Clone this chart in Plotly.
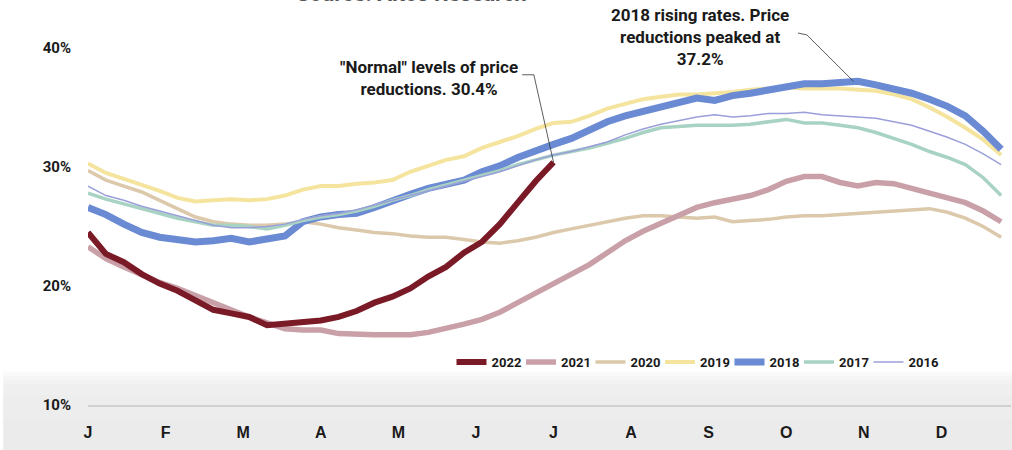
import plotly.graph_objects as go

# Weekly share of listings with a price reduction (%), week 0 = first week of January
weeks = list(range(52))

y2022 = [24.5, 22.7, 22.0, 21.0, 20.2, 19.6, 18.8, 18.0, 17.7, 17.4, 16.7, 16.8, 16.9,
         17.1, 17.4, 17.9, 18.6, 19.1, 19.8, 20.8, 21.6, 22.8, 23.7, 25.2, 27.0, 28.8, 30.4]

y2021 = [23.3, 22.3, 21.6, 20.9, 20.3, 19.8, 19.2, 18.5, 17.9, 17.4, 16.9, 16.4, 16.3,
         16.3, 16.0, 15.9, 15.9, 15.9, 15.9, 16.1, 16.4, 16.8, 17.2, 17.8, 18.6, 19.4,
         20.2, 21.0, 21.8, 22.8, 23.8, 24.6, 25.3, 25.9, 26.6, 27.0, 27.3, 27.6, 28.1,
         28.8, 29.2, 29.2, 28.7, 28.4, 28.7, 28.6, 28.2, 27.8, 27.5, 27.0, 26.3, 25.4]

y2020 = [29.7, 28.9, 28.4, 27.9, 27.2, 26.5, 25.8, 25.4, 25.2, 25.1, 25.1, 25.2, 25.4,
         25.2, 24.9, 24.7, 24.5, 24.4, 24.2, 24.1, 24.1, 23.9, 23.7, 23.6, 23.8, 24.1,
         24.5, 24.8, 25.1, 25.4, 25.7, 25.9, 25.9, 25.8, 25.7, 25.8, 25.4, 25.5, 25.6,
         25.8, 25.9, 25.9, 26.0, 26.1, 26.2, 26.3, 26.4, 26.5, 26.2, 25.7, 25.0, 24.1]

y2019 = [30.3, 29.5, 29.0, 28.5, 28.0, 27.4, 27.1, 27.2, 27.3, 27.2, 27.3, 27.6, 28.1,
         28.4, 28.4, 28.6, 28.7, 28.9, 29.6, 30.1, 30.6, 30.9, 31.6, 32.1, 32.6, 33.2,
         33.7, 33.8, 34.3, 34.9, 35.3, 35.7, 35.9, 36.1, 36.1, 36.2, 36.3, 36.5, 36.6,
         36.7, 36.6, 36.6, 36.6, 36.5, 36.4, 36.1, 35.7, 35.0, 34.2, 33.3, 32.3, 31.0]

y2018 = [26.6, 26.0, 25.2, 24.5, 24.1, 23.9, 23.7, 23.8, 24.0, 23.7, 23.9, 24.2, 25.4,
         25.8, 26.0, 26.1, 26.6, 27.2, 27.7, 28.2, 28.5, 28.9, 29.6, 30.1, 30.8, 31.4,
         31.9, 32.4, 33.1, 33.8, 34.3, 34.7, 35.0, 35.4, 35.8, 35.6, 36.0, 36.2, 36.5,
         36.8, 37.0, 37.0, 37.1, 37.2, 36.9, 36.6, 36.2, 35.7, 35.1, 34.3, 33.0, 31.5]

y2017 = [27.8, 27.3, 26.9, 26.5, 26.1, 25.7, 25.4, 25.1, 25.1, 25.0, 24.8, 25.1, 25.5,
         25.8, 26.0, 26.3, 26.7, 27.2, 27.6, 28.1, 28.5, 28.9, 29.3, 29.7, 30.2, 30.6,
         31.0, 31.3, 31.6, 32.0, 32.4, 32.9, 33.3, 33.4, 33.5, 33.5, 33.5, 33.6, 33.8,
         34.0, 33.7, 33.7, 33.5, 33.3, 32.9, 32.4, 31.9, 31.3, 30.8, 30.2, 29.1, 27.6]

y2016 = [28.4, 27.6, 27.2, 26.7, 26.3, 25.9, 25.5, 25.1, 24.9, 24.9, 25.0, 25.2, 25.6,
         25.9, 26.1, 26.4, 26.8, 27.2, 27.6, 28.0, 28.4, 28.8, 29.2, 29.6, 30.1, 30.6,
         31.0, 31.3, 31.7, 32.1, 32.7, 33.2, 33.6, 33.9, 34.2, 34.4, 34.2, 34.3, 34.5,
         34.5, 34.6, 34.4, 34.3, 34.2, 34.1, 33.8, 33.5, 33.0, 32.5, 31.9, 31.1, 30.2]

month_labels = ["J", "F", "M", "A", "M", "J", "J", "A", "S", "O", "N", "D"]
y_ticks = [10, 20, 30, 40]

# name, values, colour, width, legend slot; listed in drawing order (bottom first)
series = [
    ("2020", y2020, "#dcc8aa", 3.5, 2),
    ("2021", y2021, "#c9a0a8", 5.5, 1),
    ("2019", y2019, "#f5e49e", 4, 3),
    ("2018", y2018, "#6b8ad4", 7, 4),
    ("2017", y2017, "#a8d3c3", 3.5, 5),
    ("2016", y2016, "#9a9fd9", 1.5, 6),
    ("2022", y2022, "#7a1a26", 6, 0),
]

PLOT_LEFT, PLOT_W = 88, 923
LEGEND_X0, LEGEND_STEP = 451.5, 69.5  # pixels

def legend_key(slot):
    return "legend" if slot == 0 else f"legend{slot + 1}"

fig = go.Figure()
for name, vals, color, width, slot in series:
    fig.add_trace(go.Scatter(
        x=weeks[:len(vals)], y=vals, name=name, mode="lines",
        line=dict(color=color, width=width), legend=legend_key(slot),
    ))

month_pos = [i * 52 / 12 for i in range(12)]

label_font = dict(family="Roboto, Liberation Sans, Arial", size=17, color="#1a1a1a", weight="bold")
leader = dict(color="#333333", width=0.8)

# callout for the 2022 endpoint
end_week = len(y2022) - 1
fig.add_annotation(
    x=end_week - 6.95, y=37.5, xref="x", yref="y", xanchor="center", yanchor="middle",
    text="\"Normal\" levels of price<br>reductions. 30.4%", showarrow=False,
    align="center", font=label_font,
)
fig.add_shape(
    type="path", xref="x", yref="y", layer="above",
    path=f"M {end_week - 1.75},37.75 L {end_week - 1.1},37.75 L {end_week},{y2022[-1]}",
    line=leader,
)

# callout for the 2018 peak
peak_week = y2018.index(max(y2018))
fig.add_annotation(
    x=peak_week - 8.8, y=40.9, xref="x", yref="y", xanchor="center", yanchor="middle",
    text="2018 rising rates. Price<br>reductions peaked at<br>37.2%", showarrow=False,
    align="center", font=label_font,
)
fig.add_shape(
    type="path", xref="x", yref="y", layer="above",
    path=f"M {peak_week - 3.35},41.26 L {peak_week - 2.85},41.1 L {peak_week - 0.25},{max(y2018)}",
    line=leader,
)

# source line, partly above the top edge
fig.add_annotation(
    x=0.35, y=1.0, xref="paper", yref="paper", yanchor="bottom", yshift=-8,
    text="Source: Altos Research", showarrow=False,
    font=dict(family="Roboto, Arial", size=22, color="#555555", weight="bold"),
)

# grey footer band, built from stacked translucent layers so its top edge fades in
for top in [0.082, 0.072, 0.062, 0.05, 0.025, -0.035]:
    fig.add_shape(
        type="rect", xref="paper", yref="paper", layer="below",
        x0=-0.092, x1=1.01, y0=-0.12, y1=top,
        fillcolor="#e6e6e6", opacity=0.2, line=dict(width=0),
    )

# one single-entry legend per year, laid out in a row
legend_font = dict(family="Roboto, Arial", size=13, color="#1a1a1a", weight="bold")
legends = {}
for slot in range(len(series)):
    legends[legend_key(slot)] = dict(
        orientation="h", x=(LEGEND_X0 + slot * LEGEND_STEP - PLOT_LEFT) / PLOT_W,
        y=0.106, xanchor="left", yanchor="middle",
        bgcolor="rgba(0,0,0,0)", font=legend_font, itemwidth=30,
    )

fig.update_layout(
    width=1012, height=450,
    margin=dict(l=PLOT_LEFT, r=1, t=0, b=45),
    paper_bgcolor="white", plot_bgcolor="rgba(0,0,0,0)",
    showlegend=True,
    xaxis=dict(
        range=[0, 51.55], tickvals=month_pos, ticktext=month_labels,
        showgrid=False, zeroline=False, showline=True, linecolor="#d0d0d0", linewidth=1.5,
        ticks="", ticklabelstandoff=12,
        tickfont=dict(family="Liberation Sans Narrow, Arial Narrow, Arial", size=16,
                      color="#1a1a1a", weight="bold"),
    ),
    yaxis=dict(
        range=[10, 10 + 405 / 11.9], tickvals=y_ticks,
        ticktext=[f"{v}%" for v in y_ticks],
        showgrid=False, zeroline=False, showline=False, ticks="", ticklabelstandoff=16,
        tickfont=dict(family="Roboto, Arial", size=15, color="#1a1a1a", weight="bold"),
    ),
    **legends,
)

fig.write_html("out.html")
